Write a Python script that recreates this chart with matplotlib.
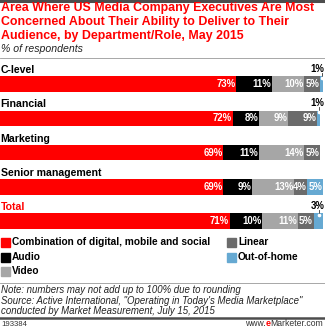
import numpy as np
import matplotlib.pyplot as plt
from matplotlib.patches import Rectangle
from matplotlib.lines import Line2D

plt.rcParams['font.family'] = ['Liberation Sans', 'DejaVu Sans']

# data
roles = ["C-level", "Financial", "Marketing", "Senior management", "Total"]
series = ["Combination of digital, mobile and social", "Audio", "Video",
          "Linear", "Out-of-home"]
digital = [73, 72, 69, 69, 71]
audio = [11, 8, 11, 9, 10]
video = [10, 9, 14, 13, 11]
linear = [5, 9, 5, 4, 5]
ooh = [1, 1, 0, 5, 3]
colors = ["#ff0000", "#000000", "#a6a6a6", "#6b6b6b", "#66a9d2"]

W, H = 325, 329
fig = plt.figure(figsize=(W / 100, H / 100), dpi=100)
fig.patch.set_facecolor("white")


def ft(x, y, s, **kw):
    # text placed in pixel coords (from top-left)
    return fig.text(x / W, 1 - y / H, s, **kw)


def hline(y, lw, color):
    fig.add_artist(Line2D([0, 1], [1 - y / H, 1 - y / H], lw=lw, color=color,
                          transform=fig.transFigure))


# title
hline(1, 2.2, "#4d4d4d")
title = ["Area Where US Media Company Executives Are Most",
         "Concerned About Their Ability to Deliver to Their",
         "Audience, by Department/Role, May 2015"]
for i, t in enumerate(title):
    ft(1, 8 + i * 14, t, color="#ff0000", fontsize=8.9, fontweight="bold",
       va="center", ha="left")
ft(1, 49, "% of respondents", fontsize=7.6, style="italic", color="#222222",
   va="center")
hline(57.5, 0.6, "#999999")

# bars
ax = fig.add_axes([0, 0, 1, 1])
ax.set_xlim(0, 100.5)
ax.set_ylim(H, 0)
ax.axis("off")

centers = 84 + np.arange(len(roles)) * 34.3
stack = np.array([digital, audio, video, linear, ooh], dtype=float)
left = np.zeros(len(roles))
for k in range(len(series)):
    ax.barh(centers, stack[k], left=left, height=15.5, color=colors[k],
            edgecolor="none")
    for i in range(len(roles)):
        v = stack[k][i]
        if v >= 4:
            ax.text(left[i] + v - 0.2, centers[i], f"{int(v)}%", color="white",
                    fontsize=6.9, fontweight="bold", ha="right", va="center")
        elif v > 0:
            xe = left[i] + v / 2
            ax.plot([xe, xe], [centers[i] - 11, centers[i] - 6.5],
                    color="#333333", lw=0.6)
            ax.plot([xe], [centers[i] - 6.2], "o", color="white", ms=1.6)
            ax.text(min(xe, 98.2), centers[i] - 15, f"{int(v)}%",
                    color="black", fontsize=6.9, fontweight="bold",
                    ha="center", va="center")
    left += stack[k]

for i, r in enumerate(roles):
    ax.text(0.2, centers[i] - 14, r, fontsize=7.6, fontweight="bold",
            color="#ff0000" if r == "Total" else "black", ha="left",
            va="center")

# legend
leg_pos = [(1, 242), (1, 257), (1, 271), (227, 242), (227, 257)]
for k, (x, y) in enumerate(leg_pos):
    fig.add_artist(Rectangle((x / W, 1 - (y + 4.5) / H), 9 / W, 9 / H,
                             color=colors[k], transform=fig.transFigure))
    ft(x + 11, y, series[k], fontsize=7.3, fontweight="bold", va="center")

hline(282.5, 0.6, "#999999")
notes = ["Note: numbers may not add up to 100% due to rounding",
         "Source: Active International, \"Operating in Today's Media Marketplace\"",
         "conducted by Market Measurement, July 15, 2015"]
for i, t in enumerate(notes):
    ft(1, 290 + i * 10.5, t, fontsize=6.9, style="italic", color="#222222",
       va="center")
hline(317.5, 1.8, "#4d4d4d")
ft(1, 324, "193384", fontsize=5.6, color="#333333", va="center")

# footer brand, the "e" in red
r = fig.canvas.get_renderer()
t1 = ft(323, 324, "Marketer.com", fontsize=6.2, color="#333333", va="center",
        ha="right")
x1 = t1.get_window_extent(r).x0
t2 = ft(x1, 324, "e", fontsize=6.4, color="#ff0000", fontweight="bold",
        va="center", ha="right")
x2 = t2.get_window_extent(r).x0
ft(x2, 324, "www.", fontsize=6.2, color="#333333", va="center", ha="right")

fig.savefig("out.png", dpi=100)
